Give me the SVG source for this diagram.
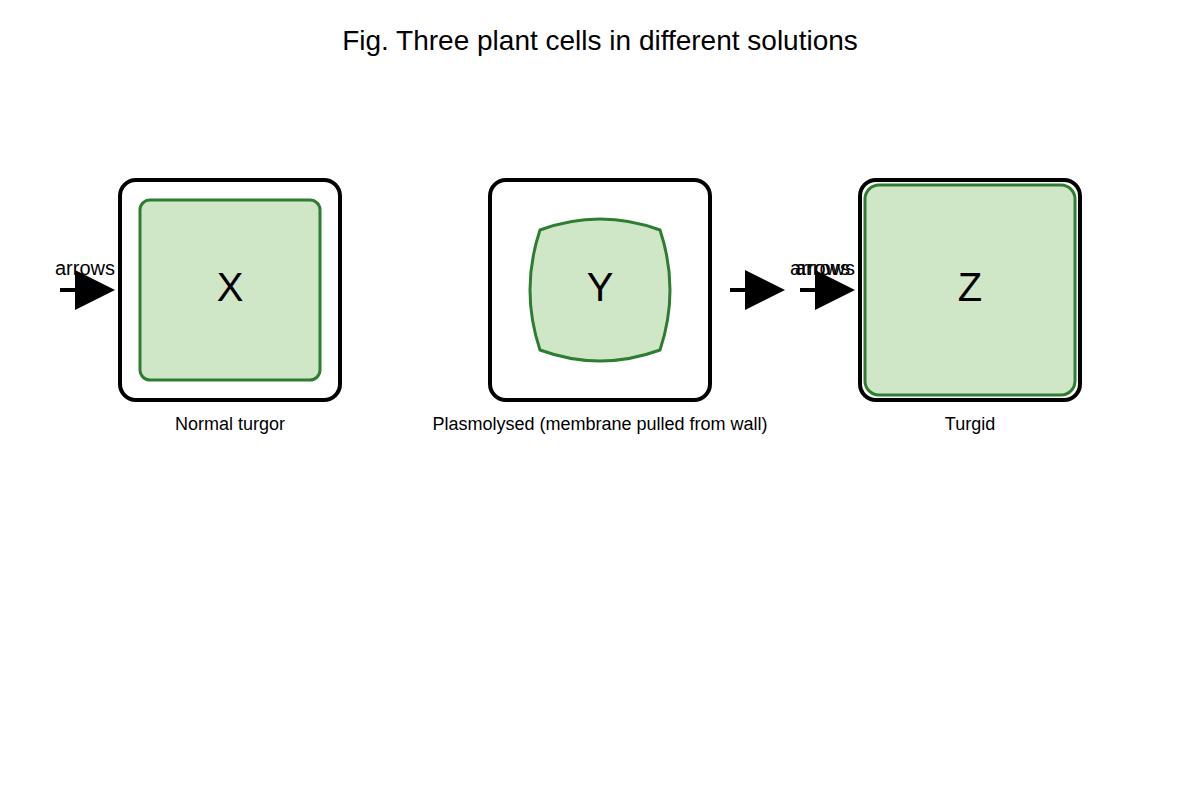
<svg xmlns="http://www.w3.org/2000/svg" width="1200" height="800" viewBox="0 0 1200 800">
<style>
text{font-family:"Liberation Sans",Arial,sans-serif;fill:#000}
.wall{fill:#fff;stroke:#000;stroke-width:4}
.cyto{fill:#cfe7c7;stroke:#2e7d32;stroke-width:3}
.big{font-size:40px;text-anchor:middle}
.cap{font-size:18px;text-anchor:middle}
.lbl{font-size:20px;text-anchor:middle}
.ln{stroke:#000;stroke-width:4}
</style>
<defs><polygon id="ah" points="0,-20 40,0 0,20" fill="#000"/></defs>
<rect width="1200" height="800" fill="#fff"/>
<text x="600" y="50" font-size="28" text-anchor="middle">Fig. Three plant cells in different solutions</text>
<g id="cellX">
<rect class="wall" x="120" y="180" width="220" height="220" rx="16"/>
<rect class="cyto" x="140" y="200" width="180" height="180" rx="10"/>
<text class="big" x="230" y="301">X</text>
<text class="cap" x="230" y="430">Normal turgor</text>
</g>
<g id="cellY">
<rect class="wall" x="490" y="180" width="220" height="220" rx="16"/>
<path class="cyto" d="M540,230 Q600,208 660,230 Q680,290 660,350 Q600,372 540,350 Q520,290 540,230 Z"/>
<text class="big" x="600" y="301">Y</text>
<text class="cap" x="600" y="430">Plasmolysed (membrane pulled from wall)</text>
</g>
<g id="cellZ">
<rect class="wall" x="860" y="180" width="220" height="220" rx="16"/>
<rect class="cyto" x="865" y="185" width="210" height="210" rx="14"/>
<text class="big" x="970" y="301">Z</text>
<text class="cap" x="970" y="430">Turgid</text>
</g>
<g id="connectors">
<line class="ln" x1="60" y1="290" x2="80" y2="290"/><use href="#ah" x="75" y="290"/>
<text class="lbl" x="85" y="275">arrows</text>
<line class="ln" x1="730" y1="290" x2="750" y2="290"/><use href="#ah" x="745" y="290"/>
<line class="ln" x1="800" y1="290" x2="820" y2="290"/><use href="#ah" x="815" y="290"/>
<text class="lbl" x="820" y="275">arrows</text>
<text class="lbl" x="825" y="275">arrows</text>
</g>
</svg>
